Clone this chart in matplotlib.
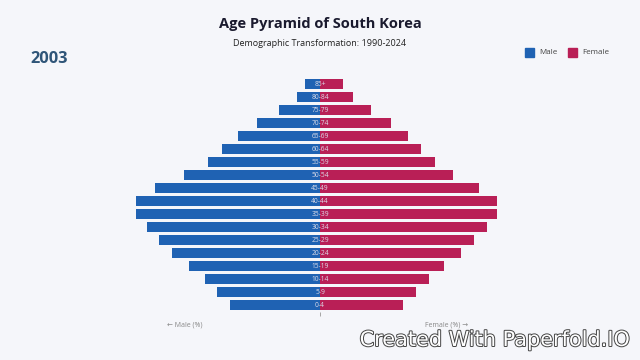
import matplotlib.pyplot as plt
import matplotlib.patheffects as pe
from matplotlib.patches import Rectangle

plt.rcParams['font.family'] = ['Open Sans', 'Noto Sans', 'DejaVu Sans']

ages = ['0-4', '5-9', '10-14', '15-19', '20-24', '25-29', '30-34', '35-39', '40-44',
        '45-49', '50-54', '55-59', '60-64', '65-69', '70-74', '75-79', '80-84', '85+']
male = [2.14, 2.45, 2.75, 3.11, 3.52, 3.83, 4.12, 4.38, 4.38,
        3.93, 3.24, 2.67, 2.33, 1.95, 1.49, 0.98, 0.55, 0.36]
female = [1.98, 2.29, 2.59, 2.95, 3.35, 3.67, 3.97, 4.22, 4.21,
          3.79, 3.16, 2.73, 2.40, 2.09, 1.68, 1.21, 0.78, 0.55]
year = '2003'

bg = '#f5f6fa'
c_male = '#1f62b3'
c_female = '#b91f56'

fig = plt.figure(figsize=(6.4, 3.6), dpi=100, facecolor=bg)
ax = fig.add_axes([110 / 640, 0.1347, 420 / 640, 0.649])
ax.set_facecolor(bg)

y = list(range(len(ages)))
ax.barh(y, [-m for m in male], height=0.76, color=c_male)
ax.barh(y, female, height=0.76, color=c_female)
for i, a in enumerate(ages):
    ax.text(0, i, a, ha='center', va='center', fontsize=4.8, color='#dcdce8')

ax.set_xlim(-5, 5)
ax.set_ylim(-0.5, 17.5)
for s in ax.spines.values():
    s.set_visible(False)
ax.set_yticks([])
ax.set_xticks([0])
ax.set_xticklabels([''])
ax.tick_params(axis='x', length=3, color='#999999', width=0.6)

fig.text(0.5, 0.933, 'Age Pyramid of South Korea', ha='center', va='center',
         fontsize=10.5, fontweight='bold', color='#1a1a2e')
fig.text(0.5, 0.88, 'Demographic Transformation: 1990-2024', ha='center', va='center',
         fontsize=6.5, color='#222222')
fig.text(30 / 640, 1 - 59 / 360, year, ha='left', va='center',
         fontsize=11.8, fontweight='bold', color='#2f5578')

# legend
fig.patches.append(Rectangle((525 / 640, 1 - 57 / 360), 9 / 640, 9 / 360,
                             transform=fig.transFigure, color=c_male))
fig.text(539 / 640, 1 - 52.5 / 360, 'Male', fontsize=5.8, va='center', color='#444444')
fig.patches.append(Rectangle((568 / 640, 1 - 57 / 360), 9 / 640, 9 / 360,
                             transform=fig.transFigure, color=c_female))
fig.text(582 / 640, 1 - 52.5 / 360, 'Female', fontsize=5.8, va='center', color='#444444')

fig.text(185 / 640, 1 - 325 / 360, '← Male (%)', ha='center', va='center',
         fontsize=5, color='#888888', family=['Open Sans', 'DejaVu Sans'])
fig.text(447 / 640, 1 - 325 / 360, 'Female (%) →', ha='center', va='center',
         fontsize=5, color='#888888', family=['Open Sans', 'DejaVu Sans'])

fig.text(630 / 640, 1 - 340 / 360, 'Created With Paperfold.IO', ha='right', va='center',
         fontsize=15, color='white', family=['DejaVu Sans'],
         path_effects=[pe.withStroke(linewidth=1.4, foreground='#444444')])

fig.savefig('out.png', dpi=100, facecolor=bg)
